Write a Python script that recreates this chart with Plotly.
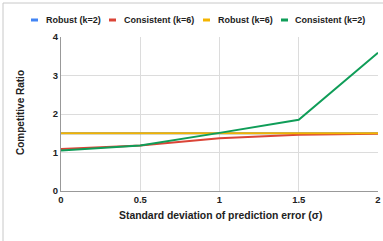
import plotly.graph_objects as go

sigma = [0, 0.5, 1, 1.5, 2]
robust_k2 = [1.5, 1.5, 1.5, 1.5, 1.5]
consistent_k6 = [1.09, 1.18, 1.37, 1.46, 1.49]
robust_k6 = [1.5, 1.5, 1.5, 1.5, 1.5]
consistent_k2 = [1.05, 1.18, 1.51, 1.85, 3.59]
x_ticks = [0, 0.5, 1, 1.5, 2]
y_ticks = [0, 1, 2, 3, 4]

series = [
    ("Robust (k=2)", robust_k2, "#4285F4"),
    ("Consistent (k=6)", consistent_k6, "#DB4437"),
    ("Robust (k=6)", robust_k6, "#F4B400"),
    ("Consistent (k=2)", consistent_k2, "#0F9D58"),
]

W, H = 383, 241
L, R, T, B = 61, 5, 37, 50
PW, PH = W - L - R, H - T - B


def px_x(px):
    return (px - L) / PW


def px_y(py):
    return (H - B - py) / PH


fig = go.Figure()
for name, vals, color in series:
    fig.add_trace(go.Scatter(x=sigma, y=vals, mode="lines", name=name,
                             line=dict(color=color, width=2)))

# manual legend (Google-Charts style short line keys)
legend_pos = [(31, 44), (109, 122), (203, 216), (281, 293)]
annotations = []
shapes = []
for (sx, tx), (name, _, color) in zip(legend_pos, series):
    shapes.append(dict(type="line", xref="paper", yref="paper",
                       x0=px_x(sx), x1=px_x(sx + 7), y0=px_y(20), y1=px_y(20),
                       line=dict(color=color, width=3)))
    annotations.append(dict(text="<b>%s</b>" % name, xref="paper", yref="paper",
                            x=px_x(tx), y=px_y(20), xanchor="left", yanchor="middle",
                            showarrow=False, font=dict(size=9, color="#222")))

annotations.append(dict(text="<b>Standard deviation of prediction error (σ)</b>",
                        xref="paper", yref="paper", x=px_x(220), y=px_y(215),
                        xanchor="center", yanchor="middle", showarrow=False,
                        font=dict(size=10.4, color="#222")))
annotations.append(dict(text="<b>Competitive Ratio</b>", textangle=-90,
                        xref="paper", yref="paper", x=px_x(20), y=px_y(113),
                        xanchor="center", yanchor="middle", showarrow=False,
                        font=dict(size=10, color="#222")))

# faint frame of the original screenshot
shapes.append(dict(type="line", xref="paper", yref="paper", x0=px_x(3), x1=px_x(3),
                   y0=px_y(3), y1=px_y(241), line=dict(color="#c8c8c8", width=1)))
shapes.append(dict(type="line", xref="paper", yref="paper", x0=px_x(3), x1=px_x(383),
                   y0=px_y(3), y1=px_y(3), line=dict(color="#c8c8c8", width=1)))

fig.update_layout(
    width=W, height=H,
    margin=dict(l=L, r=R, t=T, b=B, autoexpand=False),
    paper_bgcolor="white", plot_bgcolor="white",
    font=dict(family="Liberation Sans, Arial, sans-serif", size=10, color="#222"),
    showlegend=False,
    annotations=annotations,
    shapes=shapes,
    xaxis=dict(range=[0, 2], tickvals=x_ticks,
               ticktext=["<b>%g</b>" % v for v in x_ticks],
               showgrid=True, gridcolor="#dcdcdc", zeroline=False,
               showline=True, linecolor="#999", linewidth=1,
               automargin=False, tickfont=dict(size=9.5)),
    yaxis=dict(range=[0, 4], tickvals=y_ticks,
               ticktext=["<b>%g</b>" % v for v in y_ticks],
               showgrid=True, gridcolor="#dcdcdc", zeroline=False,
               showline=True, linecolor="#999", linewidth=1,
               automargin=False, tickfont=dict(size=9.5)),
)

fig.write_html("out.html", config={"displayModeBar": False},
               post_script="document.body.style.margin='0px';document.body.style.overflow='hidden';")
